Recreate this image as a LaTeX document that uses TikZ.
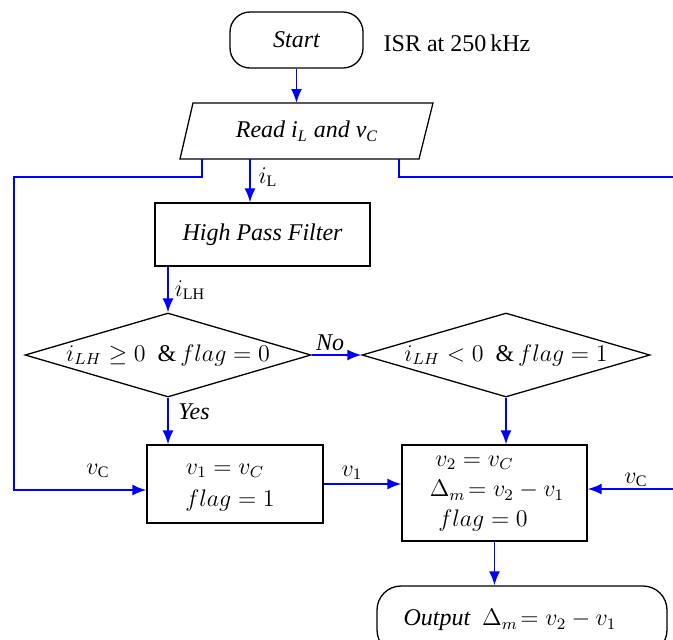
\documentclass[tikz,border=0pt]{standalone}
\usepackage{fontspec}
\setmainfont{Liberation Serif}
\usetikzlibrary{arrows.meta,shapes.geometric}
\begin{document}
\begin{tikzpicture}[x=0.5pt,y=-0.5pt, font=\fontsize{12}{14}\selectfont,
  box/.style={draw=black, line width=0.65pt, inner sep=0pt},
  conn/.style={draw=blue, line width=0.9pt, -{Latex[length=7pt,width=5.5pt]}},
  lbl/.style={inner sep=0pt}]
\useasboundingbox (0,0) rectangle (673,639);
\clip (0,0) rectangle (673,639);

% start
\node[box, rounded corners=10pt, minimum width=66.5pt, minimum height=28pt] (start) at (296.5,40) {\itshape Start};
\node[lbl] (isr) at (457,43) {ISR at 250\,kHz};

% read (parallelogram)
\coordinate (rBL) at (180,159);
\coordinate (rBR) at (419,159);
\coordinate (rTR) at (433,103);
\coordinate (rTL) at (193,103);
\draw[black, line width=0.65pt] (rBL) -- (rBR) -- (rTR) -- (rTL) -- cycle;
\node[lbl] (read) at (307,131) {\itshape Read i\textsubscript{L} and v\textsubscript{C}};
\coordinate (readT) at (296.5,103);
\coordinate (readL) at (202,159);
\coordinate (readC) at (250,159);
\coordinate (readR) at (399,159);
\draw[conn] (start.south) -- (readT);

% high pass filter
\node[box, minimum width=107.5pt, minimum height=31.5pt] (hpf) at (262.5,234.5) {\itshape High Pass Filter};
\draw[conn] (readC) -- (readC |- hpf.north);
\node[lbl] (iL) at (268,177) {$i_{\mathrm{L}}$};

% diamonds
\node[box, diamond, aspect=3.4, minimum width=143pt, minimum height=42pt] (d1) at (168,355)
  {\makebox[0pt]{$i_{LH}\geq 0\ \ \&\, flag=0$}};
\node[box, diamond, aspect=3.4, minimum width=144pt, minimum height=42pt] (d2) at (506,355)
  {\makebox[0pt]{$i_{LH}<0\ \ \&\, flag=1$}};
\draw[conn] (hpf.south -| d1.north) -- (d1.north);
\node[lbl] (iLH) at (190,290) {$i_{\mathrm{LH}}$};
\draw[conn] (d1.east) -- (d2.west);
\node[lbl] (no) at (330,343) {\itshape No};

% box 1
\node[box, minimum width=88pt, minimum height=39pt] (box1) at (235,484) {};
\node[lbl] (b1a) at (225,471) {$v_1 = v_C$};
\node[lbl] (b1b) at (230,500) {$flag = 1$};
\draw[conn] (d1.south) -- (d1.south |- box1.north);
\node[lbl] (yes) at (194,412) {\itshape Yes};

% box 2
\node[box, minimum width=92.5pt, minimum height=48pt] (box2) at (494.5,493) {};
\node[lbl] (b2a) at (474.5,463) {$v_2 = v_C$};
\node[lbl] (b2b) at (497,490) {$\Delta_m\!= v_2 - v_1$};
\node[lbl] (b2c) at (483,520) {$flag = 0$};
\draw[conn] (d2.south) -- (d2.south |- box2.north);

% v1 connector
\draw[conn] (box1.east) -- (box1.east -| box2.west);
\node[lbl] (v1l) at (352,473) {$v_1$};

% side feeds of v_C
\draw[conn] (readL) -- (202,177) -- (14,177) -- (14,490) -- ([yshift=-3pt]box1.west);
\node[lbl] (vCl) at (98,471) {$v_{\mathrm{C}}$};
\draw[conn] (readR) -- (399,177) -- (690,177) -- (690,489) -- ([yshift=2pt]box2.east);
\node[lbl] (vCr) at (636,480) {$v_{\mathrm{C}}$};

% output
\node[box, rounded corners=12pt, minimum width=145pt, minimum height=34pt] (out) at (522,620) {};
\node[lbl] (outt) at (510,620) {\itshape Output\ \ $\Delta_m\!= v_2 - v_1$};
\draw[conn] (box2.south) -- (box2.south |- out.north);
\end{tikzpicture}
\end{document}
